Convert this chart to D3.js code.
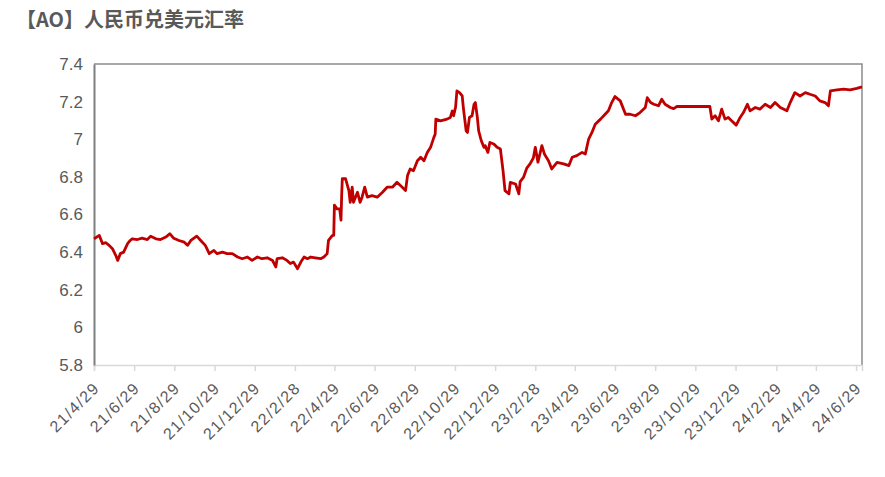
<!DOCTYPE html>
<html><head><meta charset="utf-8">
<script src="https://cdn.jsdelivr.net/npm/d3@7"></script>
<style>body{margin:0;background:#fff;}svg{display:block;}</style>
</head><body>
<svg id="chart" width="885" height="477"></svg>
<script>
const titleText = "【AO】人民币兑美元汇率";
const tickLabels = ["21/4/29","21/6/29","21/8/29","21/10/29","21/12/29","22/2/28","22/4/29","22/6/29","22/8/29","22/10/29","22/12/29","23/2/28","23/4/29","23/6/29","23/8/29","23/10/29","23/12/29","24/2/29","24/4/29","24/6/29"];
const yTicks = [5.8,6,6.2,6.4,6.6,6.8,7,7.2,7.4];
const dates = ["2021-04-29","2021-05-07","2021-05-12","2021-05-17","2021-05-22","2021-05-27","2021-06-01","2021-06-04","2021-06-08","2021-06-13","2021-06-19","2021-06-23","2021-06-26","2021-07-04","2021-07-11","2021-07-19","2021-07-24","2021-08-01","2021-08-08","2021-08-16","2021-08-22","2021-08-28","2021-09-05","2021-09-13","2021-09-18","2021-09-23","2021-10-02","2021-10-08","2021-10-15","2021-10-21","2021-10-28","2021-11-02","2021-11-10","2021-11-17","2021-11-25","2021-12-03","2021-12-10","2021-12-18","2021-12-25","2022-01-02","2022-01-09","2022-01-17","2022-01-25","2022-01-30","2022-02-01","2022-02-09","2022-02-16","2022-02-21","2022-02-26","2022-03-04","2022-03-09","2022-03-14","2022-03-19","2022-03-24","2022-03-31","2022-04-08","2022-04-13","2022-04-18","2022-04-20","2022-04-26","2022-04-28","2022-04-29","2022-05-03","2022-05-07","2022-05-09","2022-05-10","2022-05-11","2022-05-16","2022-05-21","2022-05-23","2022-05-26","2022-05-28","2022-06-03","2022-06-07","2022-06-10","2022-06-14","2022-06-18","2022-06-25","2022-07-03","2022-07-11","2022-07-18","2022-07-26","2022-08-02","2022-08-10","2022-08-15","2022-08-18","2022-08-22","2022-08-27","2022-09-02","2022-09-07","2022-09-12","2022-09-17","2022-09-22","2022-09-27","2022-09-29","2022-09-30","2022-10-07","2022-10-17","2022-10-22","2022-10-25","2022-10-27","2022-10-30","2022-11-01","2022-11-05","2022-11-09","2022-11-11","2022-11-15","2022-11-17","2022-11-20","2022-11-24","2022-11-27","2022-11-29","2022-12-02","2022-12-04","2022-12-08","2022-12-12","2022-12-14","2022-12-18","2022-12-21","2022-12-27","2023-01-01","2023-01-06","2023-01-10","2023-01-13","2023-01-19","2023-01-21","2023-01-29","2023-02-03","2023-02-05","2023-02-10","2023-02-15","2023-02-20","2023-02-25","2023-02-28","2023-03-04","2023-03-10","2023-03-14","2023-03-20","2023-03-25","2023-04-02","2023-04-12","2023-04-20","2023-04-25","2023-05-02","2023-05-10","2023-05-15","2023-05-20","2023-05-25","2023-05-30","2023-06-07","2023-06-14","2023-06-19","2023-06-24","2023-06-29","2023-07-07","2023-07-15","2023-07-22","2023-07-30","2023-08-06","2023-08-14","2023-08-17","2023-08-22","2023-08-27","2023-09-03","2023-09-08","2023-09-13","2023-09-21","2023-09-26","2023-10-01","2023-11-20","2023-11-23","2023-11-28","2023-12-03","2023-12-08","2023-12-13","2023-12-18","2023-12-23","2023-12-30","2024-01-05","2024-01-10","2024-01-16","2024-01-20","2024-01-28","2024-02-04","2024-02-12","2024-02-20","2024-02-27","2024-03-06","2024-03-16","2024-03-21","2024-03-28","2024-04-05","2024-04-13","2024-04-20","2024-04-28","2024-05-05","2024-05-13","2024-05-18","2024-05-21","2024-05-31","2024-06-10","2024-06-20","2024-06-30","2024-07-08"];
const rates = [6.47,6.489,6.445,6.45,6.436,6.418,6.383,6.356,6.392,6.40,6.445,6.462,6.471,6.467,6.474,6.467,6.485,6.471,6.467,6.48,6.498,6.474,6.462,6.453,6.436,6.462,6.485,6.462,6.436,6.392,6.409,6.392,6.40,6.392,6.392,6.374,6.365,6.374,6.356,6.374,6.365,6.37,6.356,6.321,6.365,6.37,6.356,6.339,6.347,6.312,6.347,6.374,6.365,6.374,6.37,6.365,6.374,6.392,6.462,6.489,6.489,6.65,6.63,6.63,6.57,6.70,6.79,6.79,6.727,6.665,6.745,6.665,6.718,6.665,6.692,6.745,6.692,6.70,6.692,6.718,6.745,6.745,6.771,6.745,6.727,6.807,6.842,6.833,6.886,6.904,6.886,6.93,6.957,7.01,7.027,7.107,7.098,7.107,7.116,7.15,7.125,7.172,7.257,7.248,7.23,7.16,7.045,7.036,7.116,7.125,7.186,7.195,7.116,7.045,6.992,6.957,6.966,6.93,6.983,6.975,6.957,6.948,6.833,6.727,6.71,6.771,6.762,6.71,6.775,6.797,6.846,6.869,6.90,6.957,6.878,6.966,6.92,6.886,6.842,6.877,6.869,6.86,6.904,6.913,6.93,6.922,7.001,7.036,7.08,7.107,7.133,7.151,7.195,7.227,7.204,7.133,7.133,7.125,7.142,7.169,7.221,7.195,7.186,7.178,7.213,7.186,7.169,7.163,7.174,7.174,7.107,7.125,7.098,7.16,7.107,7.116,7.098,7.075,7.116,7.142,7.186,7.151,7.169,7.16,7.186,7.169,7.195,7.169,7.151,7.195,7.248,7.23,7.248,7.239,7.23,7.204,7.195,7.178,7.257,7.262,7.266,7.262,7.27,7.278];

const parse = d3.timeParse("%Y-%m-%d");
const data = dates.map((d,i)=>({date:parse(d), v:rates[i]}));
const tickDates = tickLabels.map(s=>{const p=s.split("/");return new Date(2000+ +p[0], +p[1]-1, +p[2]);});

const svg = d3.select("#chart");
const L=94, R=862, T=64, B=365;
const x = d3.scaleTime().domain([parse("2021-04-29"), parse("2024-07-08")]).range([L,R]);
const y = d3.scaleLinear().domain([5.8,7.4]).range([B,T]);

svg.append("text").attr("x",16).attr("y",27).text(titleText)
  .attr("font-family","'Noto Sans CJK SC', sans-serif").attr("font-weight","bold")
  .attr("font-size",20).attr("fill","#595959");

// frame: top and right
svg.append("path").attr("d",`M${L},${T}H${R}V${B}`).attr("fill","none").attr("stroke","#8c8c8c").attr("stroke-width",1.5);

// x axis
const xAxis = d3.axisBottom(x).tickValues(tickDates).tickSize(6).tickFormat((d,i)=>tickLabels[i]);
const gx = svg.append("g").attr("transform",`translate(0,${B})`).call(xAxis);
gx.select(".domain").attr("stroke","#d9d9d9").attr("stroke-width",1.5);
gx.selectAll(".tick line").attr("stroke","#d9d9d9").attr("stroke-width",1.5);
gx.selectAll(".tick text").attr("font-family","'Liberation Sans', Arial, sans-serif").attr("font-size",16).attr("fill","#595959")
  .attr("letter-spacing","1.3px")
  .attr("text-anchor","end").attr("dy",0).attr("y",0)
  .attr("transform","translate(6,24) rotate(-45)");

// y axis
const yAxis = d3.axisLeft(y).tickValues(yTicks).tickSize(0).tickPadding(11).tickFormat(d3.format("~g"));
const gy = svg.append("g").attr("transform",`translate(${L},0)`).call(yAxis);
gy.select(".domain").attr("stroke","#7f7f7f").attr("stroke-width",2);
gy.selectAll(".tick text").attr("font-family","'Liberation Sans', Arial, sans-serif").attr("font-size",17).attr("fill","#595959");

// line
const line = d3.line().x(d=>x(d.date)).y(d=>y(d.v));
svg.append("path").datum(data).attr("d",line).attr("fill","none").attr("stroke","#c00000").attr("stroke-width",2.8).attr("stroke-linejoin","round");
</script>
</body></html>
